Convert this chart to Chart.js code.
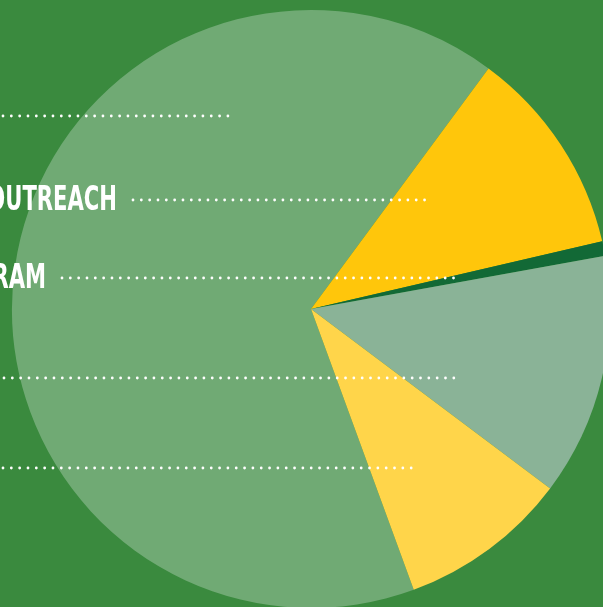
<!DOCTYPE html>
<html>
<head>
<meta charset="utf-8">
<script src="https://cdn.jsdelivr.net/npm/chart.js@4.4.0/dist/chart.umd.min.js"></script>
<style>
    html, body { margin: 0; padding: 0; background: #3a8a3e; overflow: hidden; width: 603px; height: 607px; }
    #wrap { position: absolute; left: 0; top: 0; width: 622px; height: 618px; }
</style>
</head>
<body>
<div id="wrap"><canvas id="expenses" width="622" height="618"></canvas></div>
<script>
// Данные диаграммы ---------------------------------------------------------------------------------------------------
var categories = ['PROGRAM SERVICES', 'COMMUNITY OUTREACH', 'YOUTH PROGRAM', 'FUNDRAISING', 'MANAGEMENT & GENERAL'];
var shares = [65.7, 11.25, 0.78, 13.1, 9.17];
var sliceColors = ['#70aa74', '#ffc60b', '#126936', '#8ab397', '#ffd54a'];

// Выноски слева: высота строки и конец пунктира
var leaderY = [116, 200, 278, 378, 468];
var leaderEndX = [228, 432, 457, 458, 414];
var leaderStartX = [3, 133, 62, 4, 3];

var leaders = {
    id: 'leaders',
    afterDatasetsDraw: function (chart) {
        var ctx = chart.ctx;
        ctx.save();
        ctx.strokeStyle = '#ffffff';
        ctx.fillStyle = '#ffffff';
        ctx.lineWidth = 2.8;
        ctx.lineCap = 'round';
        ctx.setLineDash([0, 8.33]);
        for (var i = 0; i < categories.length; i++) {
            ctx.beginPath();
            ctx.moveTo(leaderStartX[i], leaderY[i]);
            ctx.lineTo(leaderEndX[i], leaderY[i]);
            ctx.stroke();
        }
        ctx.setLineDash([]);
        ctx.font = 'bold 34px "Liberation Sans Narrow", "DejaVu Sans Condensed", sans-serif';
        ctx.textAlign = 'right';
        ctx.textBaseline = 'middle';
        for (var j = 0; j < categories.length; j++) {
            ctx.save();
            ctx.translate(leaderStartX[j] - 16, leaderY[j] + 1);
            ctx.scale(0.69, 1);
            ctx.fillText(categories[j], 0, 0);
            ctx.restore();
        }
        // заголовок, почти весь за верхним краем
        ctx.font = 'bold 30px "Liberation Sans Narrow", sans-serif';
        ctx.textBaseline = 'alphabetic';
        ctx.fillText('TOTAL EXPENSES (IN THOUSANDS)', 588, -7);
        ctx.restore();
    }
};

var pieCanvas = document.getElementById('expenses').getContext('2d');
var pieChart = new Chart(pieCanvas, {
    type: 'pie',
    data: {
        labels: categories,
        datasets: [
            {
                data: shares,
                backgroundColor: sliceColors,
                borderWidth: 0
            }
        ]
    },
    options: {
        responsive: false,
        animation: false,
        rotation: 159.9,
        layout: { padding: 10 },
        plugins: {
            legend: { display: false },
            tooltip: { enabled: false }
        }
    },
    plugins: [leaders]
});
</script>
</body>
</html>
